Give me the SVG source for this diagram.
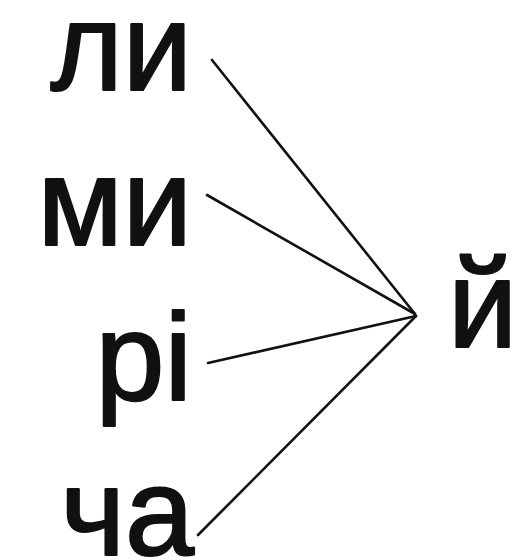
<svg xmlns="http://www.w3.org/2000/svg" width="525" height="560" viewBox="0 0 525 560">
<style>
text{font-family:"Liberation Sans",Arial,sans-serif;font-size:124px;fill:#111;stroke:#111;stroke-width:2.2;stroke-linejoin:round}
.l{text-anchor:end}
.c line{stroke:#111;stroke-width:2.6;stroke-linecap:round}
</style>
<rect width="525" height="560" fill="#fff"/>
<g id="n-li"><text class="l" x="192" y="90">ли</text></g>
<g id="n-mi"><text class="l" x="192" y="245">ми</text></g>
<g id="n-ri"><text class="l" x="192" y="400">рі</text></g>
<g id="n-cha"><text class="l" x="194" y="555">ча</text></g>
<g id="n-y"><text x="448" y="347">й</text></g>
<g class="c" id="connectors">
<line x1="212" y1="60" x2="415" y2="314"/>
<line x1="207" y1="195" x2="415" y2="314"/>
<line x1="208" y1="363" x2="416" y2="316"/>
<line x1="198" y1="535" x2="416" y2="316"/>
</g>
</svg>
